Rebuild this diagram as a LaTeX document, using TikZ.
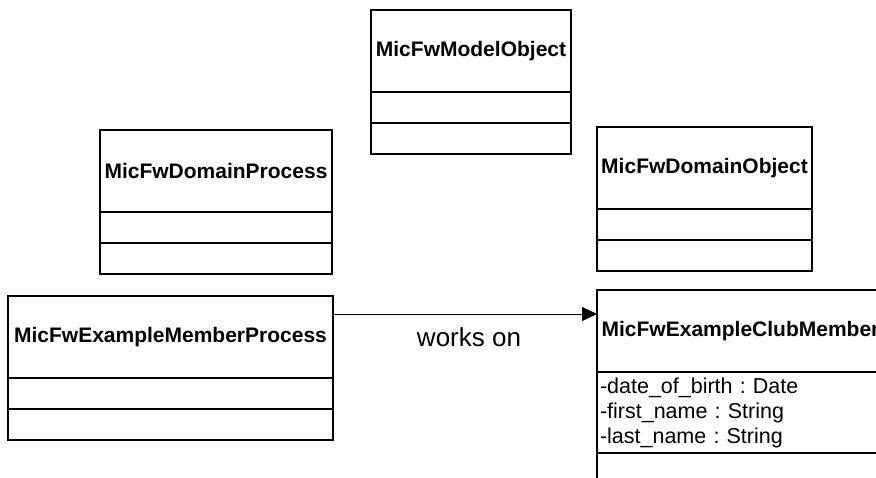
\documentclass[tikz,border=0pt]{standalone}
\usepackage{fontspec}
\setmainfont{Liberation Sans}
\usetikzlibrary{arrows.meta}
\frenchspacing

\begin{document}
\begin{tikzpicture}[x=1pt, y=-1pt,
    classhead/.style={draw, line width=1.8pt, minimum height=82pt, inner sep=0pt, outer sep=0pt,
      font=\fontsize{21}{25}\selectfont\bfseries},
    classpart/.style={draw, line width=1.8pt, minimum height=31pt, inner sep=0pt, outer sep=0pt,
      anchor=north},
    link/.style={line width=0.9pt, -{Triangle[length=15pt,width=14pt]}}]
  \clip (0,0) rectangle (876,478);
  % classes without attributes: name / x / top / width / title
  \foreach \n/\x/\y/\w/\t in {model/471/10/200/MicFwModelObject,
      domproc/216/130/232/MicFwDomainProcess,
      domobj/704.5/127/215/MicFwDomainObject,
      memproc/170.5/296/325/MicFwExampleMemberProcess} {
    \node[classhead, anchor=north, minimum width=\w pt] (\n) at (\x,\y) {\t};
    \node[classpart, minimum width=\w pt] (\n-attr) at (\n.south) {};
    \node[classpart, minimum width=\w pt] (\n-ops) at (\n-attr.south) {};
  }
  % the club member, with its attributes
  \node[classhead, anchor=north, minimum width=287pt] (clubmem) at (740.5,290) {MicFwExampleClubMember};
  \node[classpart, minimum height=81pt, text width=281pt, inner xsep=3pt, align=left,
    font=\fontsize{21.5}{25}\selectfont] (clubmem-attr) at (clubmem.south)
    {-date\_of\_birth : Date\\-first\_name : String\\-last\_name : String};
  \node[classpart, minimum width=287pt, minimum height=32pt] (clubmem-ops) at (clubmem-attr.south) {};
  %\draw[link] (memproc.east) -- (clubmem.west);
  \draw[link] ([yshift=-18pt]memproc.north east) -- ([yshift=-24pt]clubmem.north west);
  \node[anchor=base, font=\fontsize{26}{30}\selectfont] (workson) at (469,347) {works on};
\end{tikzpicture}
\end{document}
